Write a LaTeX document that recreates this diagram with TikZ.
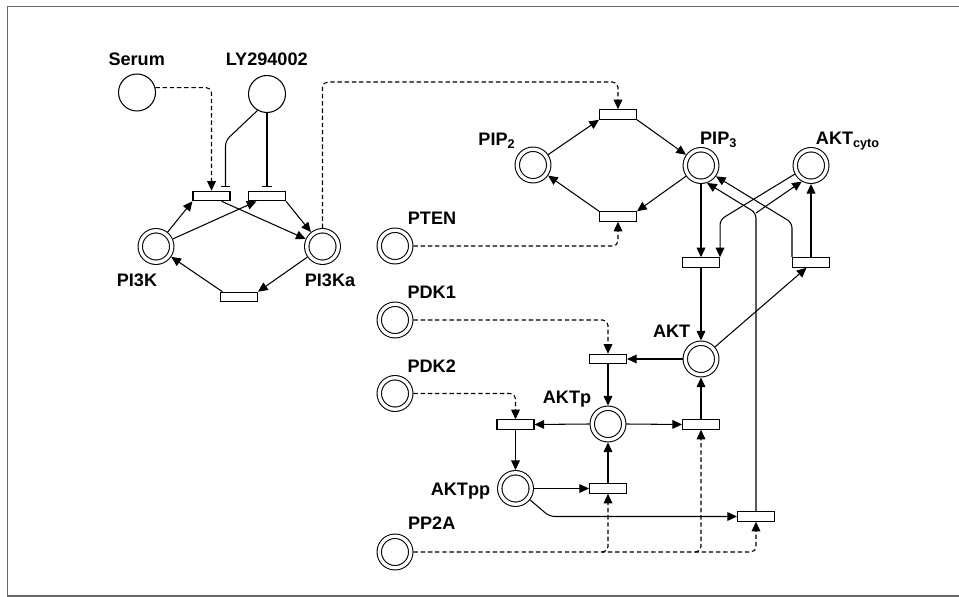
\documentclass[tikz,border=0pt]{standalone}
\usepackage{fontspec}
\setmainfont{Liberation Sans}
\usepackage{tikz}
\usetikzlibrary{arrows.meta}

\begin{document}
\begin{tikzpicture}[x=0.02cm, y=-0.02cm, line width=0.6pt,
 place/.style={circle, draw, double, double distance=1.9pt, minimum size=0.63cm, inner sep=0pt, outer sep=1.55pt},
 source/.style={circle, draw, minimum size=0.74cm, inner sep=0pt},
 trans/.style={rectangle, draw, minimum width=0.74cm, minimum height=0.19cm, inner sep=0pt},
 lbl/.style={font=\fontsize{10.3}{12}\selectfont\bfseries, anchor=base, inner sep=0pt},
 flow/.style={-{Triangle[length=5.5pt, width=5pt]}, rounded corners=3pt},
 signal/.style={flow, dash pattern=on 2.5pt off 1.6pt},
 inhib/.style={-{Bar[width=5.5pt]}, rounded corners=3pt}]
 \useasboundingbox (0,0) rectangle (959,597);
 \draw[black!60, line width=1.1pt] (959,6.5) -- (7.5,6.5) -- (7.5,596) -- (959,596);

 \node[source] (serum) at (137,92.5) {};
 \node[source] (ly) at (267,94) {};
 \node[place] (pik) at (156,246.5) {};
 \node[place] (pika) at (322.5,246.5) {};
 \node[trans] (t1) at (211.5,196) {};
 \node[trans] (t2) at (267,196) {};
 \node[trans] (t3) at (239,297) {};
 \node[place] (pip2) at (533,165) {};
 \node[place] (pip3) at (701,165.5) {};
 \node[place] (aktc) at (811,165.5) {};
 \node[trans] (t4) at (618,114.5) {};
 \node[trans] (t5) at (618,216.5) {};
 \node[place] (pten) at (395,246) {};
 \node[trans] (t6) at (701,262.5) {};
 \node[trans] (t7) at (811,262.5) {};
 \node[place] (akt) at (701,359) {};
 \node[place] (pdk1) at (395,320) {};
 \node[place] (pdk2) at (395,393.5) {};
 \node[place] (pp2a) at (395,552) {};
 \node[trans] (t8) at (608,359) {};
 \node[place] (aktp) at (608,424) {};
 \node[trans] (t9) at (515.5,424.5) {};
 \node[trans] (t10) at (701,424.5) {};
 \node[place] (aktpp) at (515.5,488.5) {};
 \node[trans] (t11) at (608,488.5) {};
 \node[trans] (t12) at (756,516.5) {};
 \coordinate (fork) at (756,213);

 \node[lbl] (lserum) at (136.7,65.7) {Serum};
 \node[lbl] (lly) at (266.7,65.7) {LY294002};
 \node[lbl] (lpik) at (137,287) {PI3K};
 \node[lbl] (lpika) at (330,287) {PI3Ka};
 \node[lbl] (lpip2) at (497,146) {PIP\textsubscript{2}};
 \node[lbl] (lpten) at (432,225) {PTEN};
 \node[lbl] (lpip3) at (718.7,145) {PIP\textsubscript{3}};
 \node[lbl] (laktc) at (848,145) {AKT\textsubscript{cyto}};
 \node[lbl] (lakt) at (671.7,337.3) {AKT};
 \node[lbl] (lpdk1) at (431.7,298.3) {PDK1};
 \node[lbl] (lpdk2) at (431.7,372.7) {PDK2};
 \node[lbl] (lpp2a) at (431.7,529.3) {PP2A};
 \node[lbl] (laktp) at (567,403.3) {AKTp};
 \node[lbl] (laktpp) at (460.5,495) {AKTpp};

 \draw[signal] (serum.15) -| (t1.north);
 \draw[inhib] (ly.240) -- ([xshift=0.28cm, yshift=1cm]t1.north) -- ([xshift=0.28cm, yshift=0.08cm]t1.north);
 \draw[inhib] (ly) -- ([yshift=0.08cm]t2.north);
 \draw[flow] (pik) -- (t1.south west);
 \draw[flow] (pik) -- ([xshift=0.17cm]t2.south west);
 \draw[flow] ([xshift=0.2cm]t1.south) -- (pika);
 \draw[flow] (t2.south east) -- (pika);
 \draw[flow] (pika) -- (t3.north east);
 \draw[flow] ([xshift=0.05cm]t3.north west) -- (pik);

 \draw[signal] (pika.north) -- ++(0,-146) -| (t4.north);
 \draw[flow] (pip2) -- (t4.south west);
 \draw[flow] (t4.south east) -- (pip3);
 \draw[flow] (pip3) -- (t5.north east);
 \draw[flow] (t5.north west) -- (pip2);
 \draw[signal] (pten.east) -| (t5.south);

 \draw[flow] (pip3) -- (t6.north);
 \draw[flow] (aktc.208) -- ([yshift=0.75cm]t6.north east) -- (t6.north east);
 \draw[flow] (t6.south) -- (akt.north);
 \draw[flow] (akt) -- ([xshift=-0.09cm]t7.south);
 \draw[flow] (t7.north) -- (aktc.south);
 \draw[flow] (t7.north west) -- ([yshift=0.69cm]t7.north west) -- (pip3.-36);
 \draw[flow] (t12.north) -- (fork) -- (pip3.-71);
 \draw[flow] (fork) -- (aktc.-120);

 \draw[signal] (pdk1.east) -| (t8.north);
 \draw[signal] (pdk2.east) -| (t9.north);
 \draw[flow] (akt.west) -- (t8.east);
 \draw[flow] (t8.south) -- (aktp.north);
 \draw[flow] (aktp.west) -- (t9.east);
 \draw[flow] (t9.south) -- (aktpp.north);
 \draw[flow] (aktp.east) -- (t10.west);
 \draw[flow] (t10.north) -- (akt.south);
 \draw[flow] (aktpp.east) -- (t11.west);
 \draw[flow] (t11.north) -- (aktp.south);
 \draw[flow] (aktpp.-38) -- ([xshift=-3.75cm]t12.west) -- (t12.west);
 \draw[signal] (pp2a.east) -| (t12.south);
 \draw[signal] ([xshift=-0.12cm]t11.south |- pp2a.east) -| (t11.south);
 \draw[signal] ([xshift=-0.12cm]t10.south |- pp2a.east) -| (t10.south);
\end{tikzpicture}
\end{document}
